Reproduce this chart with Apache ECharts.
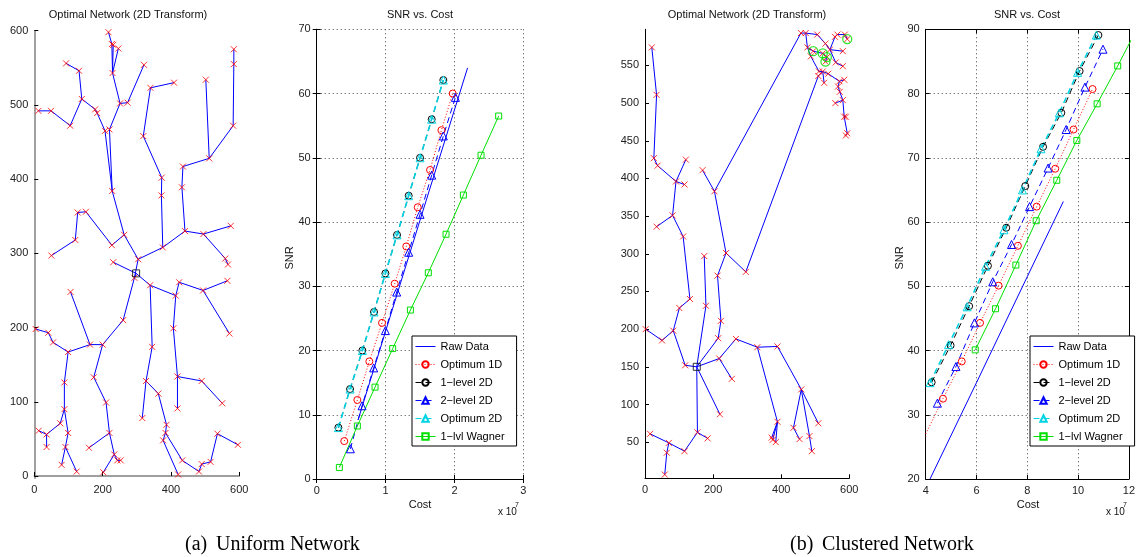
<!DOCTYPE html>
<html>
<head>
<meta charset="utf-8">
<script src="https://cdn.jsdelivr.net/npm/echarts@6/dist/echarts.min.js"></script>
<style>
  html, body { margin: 0; padding: 0; background: #fff; }
  #main { width: 1138px; height: 557px; }
</style>
</head>
<body>
<div id="main"></div>
<script>
// ---- network (a): node positions and tree branches (node indices) ----
const uniNodes = [
  [298,273],[231,288],[304,292],[293,267],[339,257],[263,325],[227,311],[151,356],[127,355],[120,318],
  [50,297],[228,384],[207,465],[220,467],[251,502],[273,503],[229,543],[217,598],[227,582],[231,581],
  [246,576],[321,554],[184,489],[178,494],[139,508],[131,546],[93,556],[105,472],[49,492],[12,492],
  [376,308],[372,378],[373,402],[319,458],[340,523],[409,530],[441,330],[495,326],[575,337],[559,293],
  [567,285],[435,417],[432,389],[512,428],[502,534],[582,472],[584,555],[584,575],[260,210],[200,177],
  [163,177],[106,248],[174,133],[210,99],[220,58],[160,38],[234,29],[243,21],[253,21],[202,5],
  [99,167],[55,180],[41,193],[4,198],[88,126],[88,90],[76,71],[36,56],[13,61],[36,39],
  [99,58],[91,39],[80,15],[124,6],[345,174],[327,128],[316,78],[363,111],[387,69],[384,58],
  [377,48],[421,2],[433,21],[482,6],[490,16],[516,19],[536,57],[596,42],[414,243],[424,261],
  [494,250],[565,263],[571,192],[407,199],[419,134],[419,91],[490,128],[550,98]
];
const uniPaths = [
  [0,1],[0,3,2,5,6,7,8,9,10],[5,11,12,22,23,24,25,26],[24,27,28,29],[11,13,14,16,18,17],
  [16,19],[16,20],[14,15,21],[2,30,31,32,33,34,35],[30,36,37,38],[37,39,40],
  [36,42,41,43,45,46,47],[43,44],[3,48,49,50,51],[49,52,53,54,55],[54,56,57,58],[56,59],
  [50,60,61,62,63],[60,64,65,66,67,68],[67,69],[65,70,71,72],[71,73],[0,4,74,75,76],
  [75,77,78,79,80,81],[79,82,83,84,85,86,87],[4,88,89,90,91],[90,92],[88,93,94,95],[94,96,97]
];
const uniRoot = 0;

// ---- network (b) ----
const cluNodes = [
  [152,150],[118,152],[83,198],[50,185],[2,200],[101,228],[132,240],[112,323],[81,351],[34,336],
  [91,396],[116,392],[120,425],[37,417],[26,427],[34,511],[20,574],[179,231],[174,297],[215,188],
  [223,211],[213,271],[218,161],[255,134],[267,187],[330,176],[389,177],[459,120],[436,69],[454,54],
  [483,58],[490,38],[509,75],[389,77],[375,53],[372,56],[384,50],[220,87],[154,63],[184,55],
  [116,38],[70,49],[64,36],[58,7],[15,61],[238,301],[204,383],[169,411],[296,276],[458,593],
  [472,593],[477,574],[487,562],[494,569],[506,591],[522,566],[534,561],[530,555],[530,579],[543,571],
  [558,588],[565,591],[587,591],[594,585],[581,569],[560,554],[581,549],[511,542],[522,542],[538,539],
  [526,527],[509,536],[571,529],[585,531],[567,522],[572,515],[581,504],[559,500],[585,482],[590,482],
  [594,460],[590,457]
];
const cluPaths = [
  [0,1,2,3,4],[2,5,6,7,8,9],[8,10,13,14,15,16],[10,11],[10,12],[0,17,18],
  [0,19,20,21,45,46,47],[45,48,71],[46,49],[0,22,23],[22,24,25,26,27],[25,33,35],[33,34],[33,36],
  [27,28,29],[27,30,31],[27,32],[0,37],[0,38,39],[38,40,41,42,43],[41,44],
  [49,50,51,52],[51,53,55,56,57],[50,54,58,59,60,61,62,63],[59,64],[59,65,66],
  [52,67,68,69,72,73],[71,68],[68,70],[72,74,75,76,77],[76,78,79],[78,80,81]
];
const cluRoot = 0;
const cluHeads = [53,55,56,57,63];

// ---- SNR vs cost (a), cost in units of 1e7 ----
const aRawCost = [0.6, 1.0, 1.5, 2.19];
const aRawSnr  = [9.2, 23.0, 40.3, 64.0];
const aOpt1dCost = [0.40,0.59,0.764,0.948,1.132,1.30,1.466,1.645,1.81,1.974];
const aOpt1dSnr  = [5.9,12.3,18.3,24.3,30.4,36.2,42.3,48.1,54.3,60.0];
const aLvl1Cost = [0.315,0.484,0.663,0.832,0.997,1.166,1.335,1.50,1.669,1.838];
const aLvl1Snr  = [8.0,14.0,20.0,26.0,32.0,38.0,44.1,50.0,56.0,62.1];
const aLvl2Cost = [0.489,0.658,0.827,0.997,1.161,1.335,1.50,1.669,1.838,2.013];
const aLvl2Snr  = [4.7,11.4,17.3,23.1,29.1,35.3,41.2,47.3,53.4,59.4];
const aOpt2dCost = [0.315,0.484,0.663,0.832,0.997,1.166,1.335,1.50,1.669,1.838];
const aOpt2dSnr  = [8.0,14.0,20.0,26.0,32.0,38.0,44.1,50.0,56.0,62.1];
const aWagCost = [0.329,0.59,0.847,1.103,1.36,1.62,1.877,2.129,2.385,2.641];
const aWagSnr  = [1.8,8.25,14.3,20.3,26.3,32.1,38.1,44.2,50.4,56.5];

// ---- SNR vs cost (b) ----
const bRawCost = [4.17, 6.0, 8.0, 9.42];
const bRawSnr  = [20.0, 35.0, 51.5, 63.2];
const bOpt1dCost = [3.95,4.68,5.42,6.14,6.87,7.63,8.37,9.10,9.82,10.57];
const bOpt1dSnr  = [26.6,32.5,38.3,44.3,50.1,56.3,62.4,68.3,74.4,80.7];
const bLvl1Cost = [4.235,4.98,5.71,6.45,7.17,7.92,8.62,9.34,10.06,10.80];
const bLvl1Snr  = [35.05,40.8,46.9,53.2,59.1,65.6,71.7,77.0,83.5,89.1];
const bLvl2Cost = [4.46,5.19,5.92,6.64,7.38,8.09,8.82,9.53,10.27,10.98];
const bLvl2Snr  = [31.8,37.5,44.3,50.7,56.5,62.4,68.4,74.4,81.0,86.9];
const bOpt2dCost = [4.17,4.90,5.63,6.36,7.08,7.81,8.54,9.26,9.98,10.72];
const bOpt2dSnr  = [35.0,40.9,46.8,53.1,58.8,65.0,71.4,77.0,83.3,89.1];
const bWagCost = [5.95,6.75,7.55,8.35,9.16,9.95,10.75,11.56,12.36];
const bWagSnr  = [40.1,46.5,53.3,60.2,66.5,72.7,78.4,84.3,90.4];

const legendNames = ["Raw Data", "Optimum 1D", "1\u2212level 2D", "2\u2212level 2D", "Optimum 2D", "1\u2212lvl Wagner"];

const FONT = "Liberation Sans";
const BLUE = "#0000ff", RED = "#ff0000", CYAN = "#00d4e4", GREEN = "#00e000";

const zip = (xs, ys) => xs.map((x, i) => [x, ys[i]]);

function tickLabel() {
  return { fontFamily: FONT, fontSize: 11, color: "#222", margin: 6 };
}

function valueAxis(grid, min, max, opts) {
  return Object.assign({
    type: "value", gridIndex: grid, min: min, max: max,
    axisLine: { show: true, lineStyle: { color: "#000", width: 1 } },
    axisTick: { show: true, inside: true, length: 4, lineStyle: { color: "#000" } },
    axisLabel: tickLabel(),
    splitLine: { show: false }
  }, opts);
}

const gridDots = { show: true, lineStyle: { color: "#444", type: [1, 3], width: 1 } };
const mirror = { axisLabel: { show: false }, splitLine: { show: false } };

const xAxes = [
  valueAxis(0, 0, 600, { interval: 200, axisLine: { lineStyle: { color: "#808080", width: 1.5 } } }),
  valueAxis(1, 0, 3, { interval: 1, splitLine: gridDots }),
  valueAxis(1, 0, 3, Object.assign({ interval: 1, position: "top" }, mirror)),
  valueAxis(2, 0, 600, { interval: 200 }),
  valueAxis(3, 4, 12, { interval: 2, splitLine: gridDots }),
  valueAxis(3, 4, 12, Object.assign({ interval: 2, position: "top" }, mirror))
];
const netYTicksA = [0, 100, 200, 300, 400, 500, 600];
const netYTicksB = [50, 100, 150, 200, 250, 300, 350, 400, 450, 500, 550];
const yAxes = [
  valueAxis(0, -3, 600, {
    axisLine: { lineStyle: { color: "#808080", width: 1.5 } },
    axisTick: { show: true, inside: true, length: 4, customValues: netYTicksA, lineStyle: { color: "#000" } },
    axisLabel: Object.assign(tickLabel(), { customValues: netYTicksA })
  }),
  valueAxis(1, 0, 70, { interval: 10, splitLine: gridDots }),
  valueAxis(1, 0, 70, Object.assign({ interval: 10, position: "right" }, mirror)),
  valueAxis(2, 2, 598, {
    axisTick: { show: true, inside: true, length: 4, customValues: netYTicksB, lineStyle: { color: "#000" } },
    axisLabel: Object.assign(tickLabel(), { customValues: netYTicksB })
  }),
  valueAxis(3, 20, 90, { interval: 10, splitLine: gridDots }),
  valueAxis(3, 20, 90, Object.assign({ interval: 10, position: "right" }, mirror))
];

function netSeries(nodes, paths, root, axis) {
  const out = [];
  out.push({
    type: "lines", coordinateSystem: "cartesian2d", xAxisIndex: axis, yAxisIndex: axis,
    polyline: true, silent: true,
    lineStyle: { color: BLUE, width: 1, opacity: 1 },
    data: paths.map(p => ({ coords: p.map(i => nodes[i]) }))
  });
  out.push({
    type: "scatter", xAxisIndex: axis, yAxisIndex: axis, silent: true,
    symbol: "path://M0,0L10,10M10,0L0,10", symbolSize: 6,
    itemStyle: { color: "transparent", borderColor: RED, borderWidth: 1 },
    data: nodes.filter((n, i) => i !== root)
  });
  out.push({
    type: "scatter", xAxisIndex: axis, yAxisIndex: axis, silent: true,
    symbol: "rect", symbolSize: 7,
    itemStyle: { color: "transparent", borderColor: "#000", borderWidth: 1 },
    data: [nodes[root]]
  });
  return out;
}

function curve(name, xs, ys, color, type, width, symbol, size, xi, yi) {
  return {
    name: name, type: "line", xAxisIndex: xi, yAxisIndex: yi, data: zip(xs, ys),
    symbol: symbol, symbolSize: size, showSymbol: symbol !== "none",
    lineStyle: { color: color, width: width, type: type },
    itemStyle: { color: "transparent", borderColor: color, borderWidth: 1 },
    emphasis: { disabled: true }, clip: true, z: 3
  };
}

function snrSeries(d, xi, yi) {
  return [
    curve(legendNames[0], d.rawC, d.rawS, BLUE, "solid", 1, "none", 0, xi, yi),
    curve(legendNames[1], d.o1C, d.o1S, RED, [1, 2], 1, "circle", 7, xi, yi),
    curve(legendNames[2], d.l1C, d.l1S, "#000", [6, 4], 1, "circle", 7, xi, yi),
    curve(legendNames[3], d.l2C, d.l2S, BLUE, [6, 4], 1, "triangle", 8, xi, yi),
    curve(legendNames[4], d.o2C, d.o2S, CYAN, [6, 4], 1.6, "triangle", 8, xi, yi),
    curve(legendNames[5], d.wC, d.wS, GREEN, "solid", 1, "rect", 6, xi, yi)
  ];
}

const series = [].concat(
  snrSeries({ rawC: aRawCost, rawS: aRawSnr, o1C: aOpt1dCost, o1S: aOpt1dSnr, l1C: aLvl1Cost, l1S: aLvl1Snr,
              l2C: aLvl2Cost, l2S: aLvl2Snr, o2C: aOpt2dCost, o2S: aOpt2dSnr, wC: aWagCost, wS: aWagSnr }, 1, 1),
  snrSeries({ rawC: bRawCost, rawS: bRawSnr, o1C: bOpt1dCost, o1S: bOpt1dSnr, l1C: bLvl1Cost, l1S: bLvl1Snr,
              l2C: bLvl2Cost, l2S: bLvl2Snr, o2C: bOpt2dCost, o2S: bOpt2dSnr, wC: bWagCost, wS: bWagSnr }, 4, 4),
  netSeries(uniNodes, uniPaths, uniRoot, 0),
  netSeries(cluNodes, cluPaths, cluRoot, 3),
  [{
    type: "scatter", xAxisIndex: 3, yAxisIndex: 3, silent: true,
    symbol: "circle", symbolSize: 9,
    itemStyle: { color: "transparent", borderColor: GREEN, borderWidth: 1.3 },
    data: cluHeads.map(i => cluNodes[i])
  }]
);

function legendAt(left) {
  return {
    left: left, top: 336, orient: "vertical", selectedMode: false,
    itemWidth: 20, itemHeight: 8, itemGap: 7, padding: [5, 12, 4, 3],
    borderColor: "#000", borderWidth: 1, backgroundColor: "#fff",
    lineStyle: { width: 1 },
    textStyle: { fontFamily: FONT, fontSize: 11, color: "#000" },
    data: legendNames.map((n, i) => i === 0 ? { name: n, itemStyle: { opacity: 0 } } : n)
  };
}

function txt(x, y, text, size, extra) {
  return {
    type: "text", x: x, y: y, silent: true,
    style: Object.assign({ text: text, fontFamily: FONT, fontSize: size, fill: "#111",
                           align: "center", verticalAlign: "middle" }, extra || {})
  };
}

const serif = { align: "left", fontFamily: "Liberation Serif", fill: "#000" };
const graphic = [
  txt(128, 15, "Optimal Network (2D Transform)", 11),
  txt(420, 15, "SNR vs. Cost", 11),
  txt(747, 15, "Optimal Network (2D Transform)", 11),
  txt(1027, 15, "SNR vs. Cost", 11),
  txt(420, 505, "Cost", 11),
  txt(1028, 505, "Cost", 11),
  Object.assign(txt(290, 258, "SNR", 11), { rotation: Math.PI / 2 }),
  Object.assign(txt(900, 258, "SNR", 11), { rotation: Math.PI / 2 }),
  txt(498, 512, "x 10", 10, { align: "left" }),
  txt(515, 505, "7", 7, { align: "left" }),
  txt(1106, 512, "x 10", 10, { align: "left" }),
  txt(1123, 505, "7", 7, { align: "left" }),
  txt(185, 545, "(a)", 20, serif),
  txt(216, 545, "Uniform Network", 20, serif),
  txt(790, 545, "(b)", 20, serif),
  txt(822, 545, "Clustered Network", 20, serif)
];

const chart = echarts.init(document.getElementById("main"), null, { renderer: "canvas" });
chart.setOption({
  animation: false,
  backgroundColor: "#fff",
  grid: [
    { left: 34.3, top: 30.7, width: 205, height: 447.5 },
    { left: 316.7, top: 29.3, width: 206.7, height: 449.7 },
    { left: 645, top: 29.3, width: 204.3, height: 449 },
    { left: 925.7, top: 29.3, width: 204.3, height: 449.7 }
  ],
  xAxis: xAxes,
  yAxis: yAxes,
  legend: [legendAt(412), legendAt(1030)],
  graphic: graphic,
  series: series
});
</script>
</body>
</html>
